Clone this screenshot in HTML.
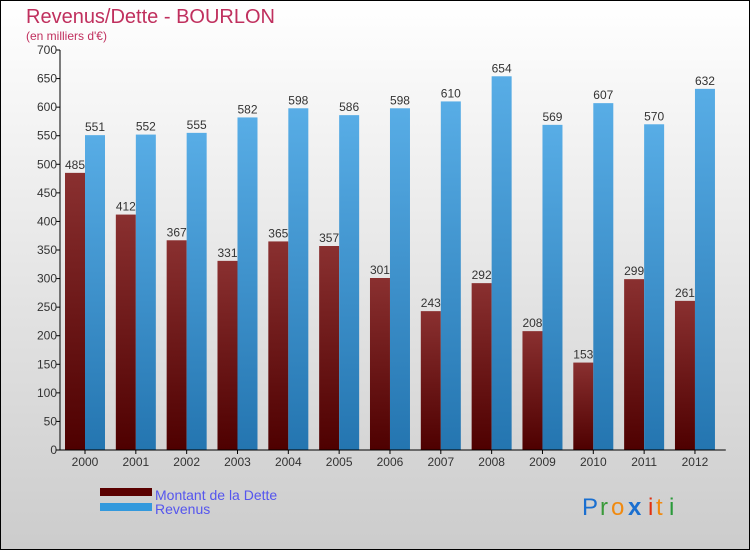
<!DOCTYPE html>
<html><head><meta charset="utf-8"><style>
body{margin:0}
#c{width:750px;height:550px;position:relative;overflow:hidden;font-family:"Liberation Sans","DejaVu Sans",sans-serif}
</style></head><body>
<div id="c">
<svg id="s" width="750" height="550" xmlns="http://www.w3.org/2000/svg">
<defs>
<linearGradient id="bg" x1="0" y1="0" x2="0" y2="1"><stop offset="0" stop-color="#ffffff"/><stop offset="1" stop-color="#cccccc"/></linearGradient>
<linearGradient id="gd" x1="0" y1="0" x2="0" y2="1"><stop offset="0" stop-color="#8a3030"/><stop offset="1" stop-color="#4e0000"/></linearGradient>
<linearGradient id="gr" x1="0" y1="0" x2="0" y2="1"><stop offset="0" stop-color="#58ade6"/><stop offset="1" stop-color="#2475b0"/></linearGradient>
</defs>
<rect x="0.5" y="0.5" width="749" height="549" fill="url(#bg)" stroke="#000"/>
<text x="26" y="23" font-size="20" fill="#c0305e">Revenus/Dette - BOURLON</text>
<text x="26" y="40" font-size="12" fill="#c0305e">(en milliers d'€)</text>
<g id="plot"></g>
<rect x="100" y="488" width="52" height="8" fill="#5a0000"/>
<text x="155" y="500" font-size="14" fill="#5555ee">Montant de la Dette</text>
<rect x="100" y="503" width="52" height="8" fill="#3399dd"/>
<text x="155" y="514" font-size="14" fill="#5555ee">Revenus</text>
<g font-size="24">
<text x="582" y="515" fill="#1a6fd0">P</text><text x="600" y="515" fill="#3a9a3a">r</text><text x="611" y="515" fill="#f08a10">o</text><text x="628" y="515" fill="#1a6fd0" font-weight="bold">x</text><text x="648" y="515" fill="#e03010">i</text><text x="656" y="515" fill="#f08a10">t</text><text x="669" y="515" fill="#2a9a3a">i</text>
</g>
</svg>
</div>
<script>
const years=["2000","2001","2002","2003","2004","2005","2006","2007","2008","2009","2010","2011","2012"];
const dette=[485,412,367,331,365,357,301,243,292,208,153,299,261];
const revenus=[551,552,555,582,598,586,598,610,654,569,607,570,632];
const yTicks=[0,50,100,150,200,250,300,350,400,450,500,550,600,650,700];
const NS="http://www.w3.org/2000/svg";
const g=document.getElementById('plot');
const x0=60,y0=450,yMax=700,ph=400,step=50.83;
const y=v=>y0-v/yMax*ph;
const xc=i=>x0+25+i*step;
function mk(t,a,txt){const e=document.createElementNS(NS,t);for(const k in a)e.setAttribute(k,a[k]);if(txt!=null)e.textContent=txt;g.appendChild(e);return e;}
yTicks.forEach(v=>{
 const l=mk('line',{x1:x0-4,x2:x0,y1:y(v),y2:y(v),stroke:'#000'});
 
 
 const t=mk('text',{x:x0-3,y:y(v)+4,'font-size':12,fill:'#333','text-anchor':'end'},v);
 
 
});
years.forEach((yr,i)=>{
 const c=xc(i);
 const bd=mk('rect',{x:c-20,y:y(dette[i]),width:20,height:y0-y(dette[i]),fill:'url(#gd)'});
 
 
 const br=mk('rect',{x:c,y:y(revenus[i]),width:20,height:y0-y(revenus[i]),fill:'url(#gr)'});
 
 
 const ld=mk('text',{x:c-10,y:y(dette[i])-4,'font-size':12,fill:'#333','text-anchor':'middle'},dette[i]);
 
 
 const lr=mk('text',{x:c+10,y:y(revenus[i])-4,'font-size':12,fill:'#333','text-anchor':'middle'},revenus[i]);
 
 
 const tk=mk('line',{x1:c,x2:c,y1:y0,y2:y0+4,stroke:'#000'});
 
 
 const xl=mk('text',{x:c,y:y0+16,'font-size':12,fill:'#333','text-anchor':'middle'},yr);
 
 
});
const ya=mk('line',{x1:x0,x2:x0,y1:y(yMax),y2:y0,stroke:'#000'});


const xa=mk('line',{x1:x0-4,x2:x0+13*step+5,y1:y0,y2:y0,stroke:'#000'});


</script>
</body></html>
